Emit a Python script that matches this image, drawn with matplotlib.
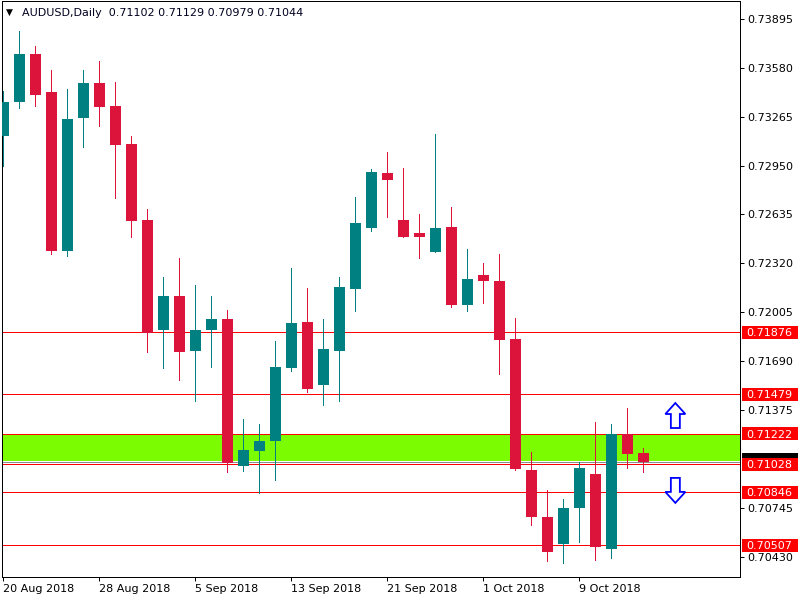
import matplotlib
matplotlib.use("Agg")
import matplotlib.pyplot as plt
from matplotlib.patches import Rectangle, Polygon
from matplotlib.transforms import blended_transform_factory

# ---- data (AUDUSD daily, 20 Aug 2018 - 15 Oct 2018) ----
opens = [0.73142, 0.73361, 0.73668, 0.73423, 0.72402, 0.73258, 0.73481, 0.73333, 0.73088, 0.72599,
         0.71893, 0.72110, 0.71758, 0.71893, 0.71962, 0.71018, 0.71114, 0.71179, 0.71648, 0.71943,
         0.71537, 0.71758, 0.72157, 0.72550, 0.72902, 0.72599, 0.72516, 0.72395, 0.72554, 0.72054,
         0.72245, 0.72207, 0.71833, 0.70990, 0.70687, 0.70516, 0.70747, 0.70964, 0.70483, 0.71222,
         0.71102]
highs = [0.73430, 0.73816, 0.73719, 0.73565, 0.73442, 0.73565, 0.73623, 0.73488, 0.73140, 0.72670,
         0.72232, 0.72355, 0.72181, 0.72110, 0.72020, 0.71318, 0.71286, 0.71820, 0.72290, 0.72162,
         0.71962, 0.72232, 0.72747, 0.72928, 0.73037, 0.72932, 0.72638, 0.73153, 0.72683, 0.72413,
         0.72322, 0.72380, 0.71968, 0.71106, 0.70861, 0.70803, 0.71043, 0.71299, 0.71286, 0.71389,
         0.71129]
lows = [0.72949, 0.73322, 0.73335, 0.72382, 0.72369, 0.73071, 0.73206, 0.72743, 0.72492, 0.71751,
        0.71648, 0.71571, 0.71436, 0.71655, 0.70979, 0.70986, 0.70844, 0.70928, 0.71629, 0.71494,
        0.71410, 0.71436, 0.72015, 0.72530, 0.72621, 0.72488, 0.72357, 0.72393, 0.72041, 0.72015,
        0.72067, 0.71610, 0.70990, 0.70638, 0.70406, 0.70393, 0.70528, 0.70413, 0.70425, 0.71005,
        0.70979]
closes = [0.73359, 0.73668, 0.73406, 0.72402, 0.73249, 0.73481, 0.73329, 0.73084, 0.72595, 0.71870,
          0.72110, 0.71751, 0.71891, 0.71962, 0.71037, 0.71119, 0.71177, 0.71653, 0.71936, 0.71513,
          0.71769, 0.72168, 0.72580, 0.72908, 0.72859, 0.72492, 0.72492, 0.72548, 0.72054, 0.72219,
          0.72209, 0.71829, 0.70998, 0.70689, 0.70464, 0.70745, 0.71003, 0.70496, 0.71222, 0.71095,
          0.71044]

date_labels = ["20 Aug 2018", "28 Aug 2018", "5 Sep 2018", "13 Sep 2018",
               "21 Sep 2018", "1 Oct 2018", "9 Oct 2018"]
date_label_idx = [0, 6, 12, 18, 24, 30, 36]

price_ticks = [0.73895, 0.73580, 0.73265, 0.72950, 0.72635, 0.72320,
               0.72005, 0.71690, 0.71375, 0.70745, 0.70430]
level_lines = [0.71876, 0.71479, 0.71222, 0.71028, 0.70846, 0.70507]
zone_low, zone_high = 0.71050, 0.71222
current_price = 0.71044
arrow_x = 42
up_arrow_tip = 0.71421
down_arrow_tip = 0.70778

title_text = "AUDUSD,Daily  0.71102 0.71129 0.70979 0.71044"

# ---- style ----
BULL = "#008080"
BEAR = "#DC143C"
W, H = 800, 600
fig = plt.figure(figsize=(8, 6), dpi=100)
ax_l, ax_r, ax_t, ax_b = 2, 740, 1, 577
ax = fig.add_axes([ax_l / W, 1 - ax_b / H, (ax_r - ax_l) / W, (ax_b - ax_t) / H])

x0, x1 = -0.081, 46.04
y0, y1 = 0.70301, 0.74009
ax.set_xlim(x0, x1)
ax.set_ylim(y0, y1)
px_x = (x1 - x0) / (ax_r - ax_l)
px_y = (y1 - y0) / (ax_b - ax_t)
LW = 0.72  # 1 px

# zone
ax.add_patch(Rectangle((x0, zone_low), x1 - x0, zone_high - zone_low,
                       facecolor="#7CFC00", edgecolor="none", zorder=1))
ax.axhline(current_price, color="#8C8C8C", lw=LW, zorder=1.5, antialiased=False)
for lv in level_lines:
    ax.axhline(lv, color="#FF0000", lw=LW, zorder=2, antialiased=False)

# candles
bw = 11 * px_x
for i, (o, h, l, c) in enumerate(zip(opens, highs, lows, closes)):
    col = BULL if c >= o else BEAR
    ax.vlines(i, l, h, color=col, lw=LW, zorder=3, antialiased=False)
    bot = min(o, c)
    ht = max(abs(c - o), px_y)
    ax.add_patch(Rectangle((i - bw / 2, bot), bw, ht, facecolor=col,
                           edgecolor="none", zorder=4, antialiased=False))

# arrows
def arrow_poly(xc, tip, up=True):
    hw, sw, hh, tot = 10, 4.5, 11, 25
    pts = [(0, 0), (hw, hh), (sw, hh), (sw, tot), (-sw, tot), (-sw, hh), (-hw, hh)]
    s = -1 if up else 1
    return [(xc + px * px_x, tip + s * py * px_y) for px, py in pts]

for tip, up in ((up_arrow_tip, True), (down_arrow_tip, False)):
    ax.add_patch(Polygon(arrow_poly(arrow_x, tip, up), closed=True, facecolor="white",
                         edgecolor="#0000FF", lw=1.3, zorder=5))

# axes styling
for sp in ax.spines.values():
    sp.set_color("black")
    sp.set_linewidth(LW)
ax.yaxis.tick_right()
ax.set_yticks(price_ticks)
ax.set_yticklabels([f"{p:.5f}" for p in price_ticks])
ax.tick_params(axis="y", direction="out", length=2.9, width=LW, pad=2.2,
               labelsize=8, colors="black")
ax.set_xticks(date_label_idx)
ax.set_xticklabels(date_labels)
ax.tick_params(axis="x", direction="out", length=2.9, width=LW, pad=2.0,
               labelsize=8, colors="black")
for lab in ax.get_xticklabels():
    lab.set_ha("left")

# right-side price labels
blend = blended_transform_factory(fig.transFigure, ax.transData)
box_h = 13 * px_y
def price_box(price, face, show_text=True):
    ax.add_patch(Rectangle((742 / W, price - box_h / 2), 56 / W, box_h, transform=blend,
                           facecolor=face, edgecolor="none", clip_on=False, zorder=10))
    if show_text:
        ax.text(746.5 / W, price, f"{price:.5f}", transform=blend, color="white", fontsize=8,
                ha="left", va="center_baseline", clip_on=False, zorder=11)

# current-price marker (mostly hidden behind the 0.71028 label, as in the terminal)
price_box(current_price + 2 * px_y, "black", show_text=False)
for lv in level_lines:
    price_box(lv, "#FF0000")

# title
fig.text(6 / W, 1 - 12.5 / H, "\u25BC", fontsize=6.5, color="black", ha="left", va="center")
fig.text(22 / W, 1 - 12.5 / H, title_text, fontsize=8, color="#000020", ha="left", va="center")

fig.savefig("out.png", dpi=100, facecolor="white")
